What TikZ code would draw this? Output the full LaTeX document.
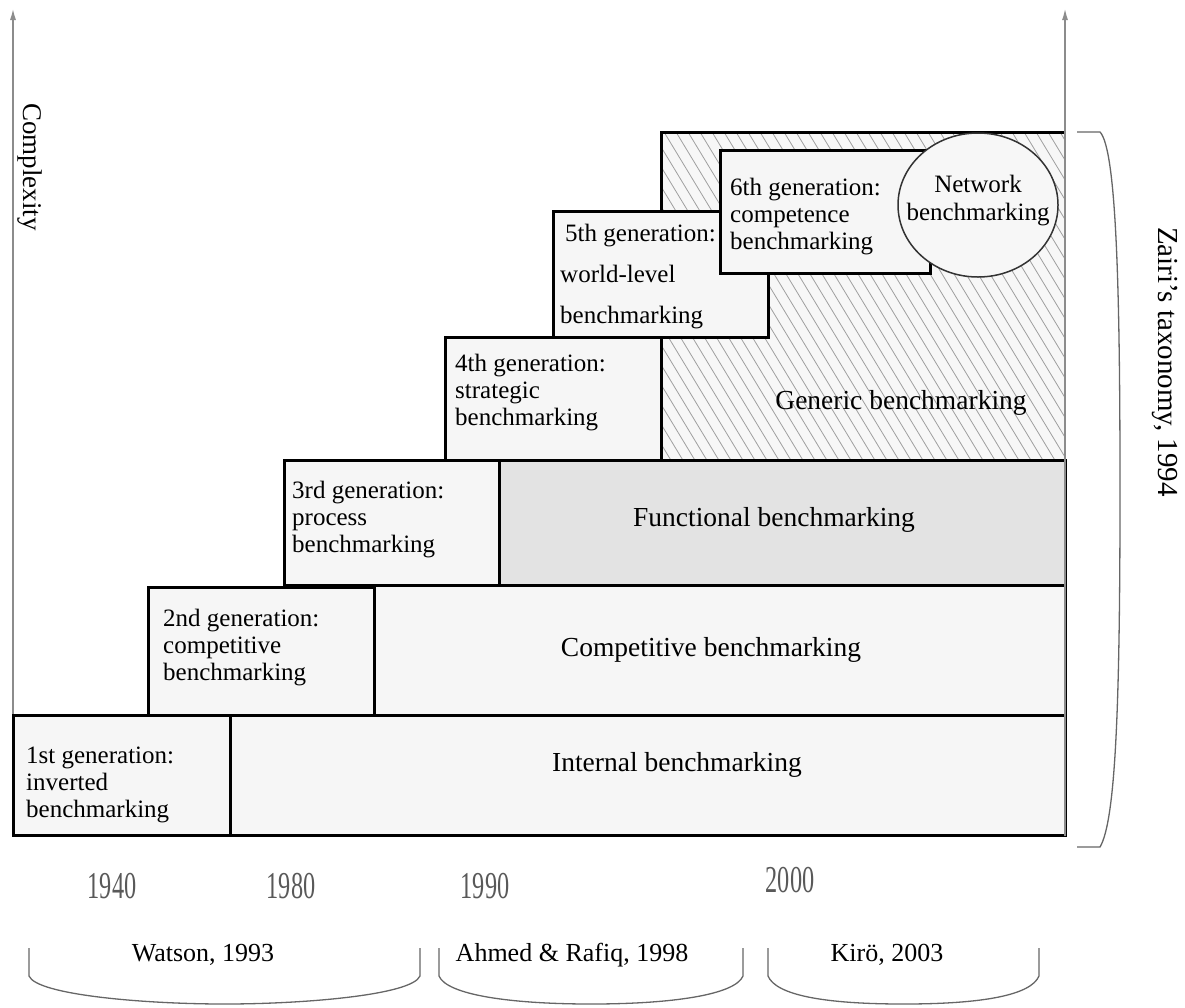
\documentclass[tikz,border=0pt]{standalone}
\usepackage{fontspec}
\setmainfont{Liberation Serif}
\usetikzlibrary{arrows.meta}

\tikzset{
  stagebox/.style={draw=black, line width=3pt, fill=gray!7},
  gentext/.style={anchor=west, align=left, inner sep=0pt, font=\fontsize{25}{27}\selectfont},
  bigtext/.style={inner sep=0pt, font=\fontsize{27.5}{30}\selectfont},
  yeartext/.style={inner sep=0pt, text=black!65, xscale=0.64, font=\fontsize{38}{38}\selectfont},
  authortext/.style={inner sep=0pt, font=\fontsize{26}{28}\selectfont},
  axisline/.style={draw=black!45, line width=1.8pt, -{Latex[length=12pt,width=6pt]}},
  bracket/.style={draw=black!60, line width=1.3pt},
}

\begin{document}
\begin{tikzpicture}[x=1pt,y=-1pt]
  \useasboundingbox (0,0) rectangle (1185,1007);
  % complexity axis
  \draw[axisline] (13,835) -- (13,8);
  \node[rotate=-90, inner sep=0pt, font=\fontsize{27}{29}\selectfont] (complexity) at (30,167) {Complexity};
  % hatched field = generic benchmarking
  \fill[gray!6] (661,132) rectangle (1065,460);
  \begin{scope}
    \clip (661,132) rectangle (1065,460);
    \foreach \x in {400,412,...,1070}{
      \draw[gray!75, line width=0.8pt] (\x,132) -- ++(200,330);
    }
  \end{scope}
  \draw[line width=3pt] (661,460) |- (1065,132);
  \node[bigtext] (generic) at (901,403) {Generic benchmarking};
  % row 1
  \draw[stagebox] (230,715) rectangle (1065,835);
  \node[bigtext] (internal) at (677,765) {Internal benchmarking};
  \draw[stagebox] (13,715) rectangle (230,835);
  \node[gentext] (gen1) at (26,785) {1st generation:\\inverted\\benchmarking};
  % row 2
  \draw[stagebox] (374,585) rectangle (1065,715);
  \node[bigtext] (competitive) at (711,650) {Competitive benchmarking};
  \draw[stagebox] (148,587) rectangle (374,715);
  \node[gentext] (gen2) at (163,648) {2nd generation:\\competitive\\benchmarking};
  % row 3
  \draw[stagebox, fill=gray!22] (499,460) rectangle (1065,585);
  \node[bigtext] (functional) at (774,520) {Functional benchmarking};
  \draw[stagebox] (284,460) rectangle (499,585);
  \node[gentext] (gen3) at (292,520) {3rd generation:\\process\\benchmarking};
  % row 4 and up
  \draw[stagebox] (445,337) rectangle (661,460);
  \node[gentext] (gen4) at (455,393) {4th generation:\\strategic\\benchmarking};
  \draw[stagebox] (553,211) rectangle (768,337);
  \node[gentext, font=\fontsize{25}{41}\selectfont] (gen5) at (560,277) {\hspace*{5pt}5th generation:\\world-level\\benchmarking};
  \draw[stagebox] (720,150) rectangle (930,273);
  \node[gentext] (gen6) at (730,217) {6th generation:\\competence\\benchmarking};
  \draw[draw=black!80, line width=1.5pt, fill=gray!6] (978,205) ellipse [x radius=80, y radius=72];
  \node[inner sep=0pt, align=center, font=\fontsize{25}{28}\selectfont] (network) at (978,201) {Network\\benchmarking};
  % time axis on the right
  \draw[axisline] (1065,836) -- (1065,8);
  % Zairi brace
  \draw[bracket] (1077,132) -- (1100,132) .. controls (1117,150) and (1120,300) .. (1120,490)
    .. controls (1120,700) and (1116,820) .. (1100,847) -- (1077,847);
  \node[rotate=-90, inner sep=0pt, font=\fontsize{29}{31}\selectfont] (zairi) at (1165,362) {Zairi's taxonomy, 1994};
  % years
  \node[yeartext] (y1940) at (112,886) {1940};
  \node[yeartext] (y1980) at (291,886) {1980};
  \node[yeartext] (y1990) at (485,886) {1990};
  \node[yeartext] (y2000) at (790,880) {2000};
  % authors with their braces
  \node[authortext] (watson) at (203,955) {Watson, 1993};
  \node[authortext] (ahmed) at (572,955) {Ahmed \& Rafiq, 1998};
  \node[authortext] (kiro) at (887,955) {Kirö, 2003};
  \foreach \l/\r in {29/420, 439/743, 768/1039}{
    \draw[bracket] (\l,948) -- (\l,976) .. controls (\l+8,995) and ({(\l+\r)/2-80},1004) .. ({(\l+\r)/2},1004)
      .. controls ({(\l+\r)/2+80},1004) and (\r-8,995) .. (\r,976) -- (\r,948);
  }
\end{tikzpicture}
\end{document}
